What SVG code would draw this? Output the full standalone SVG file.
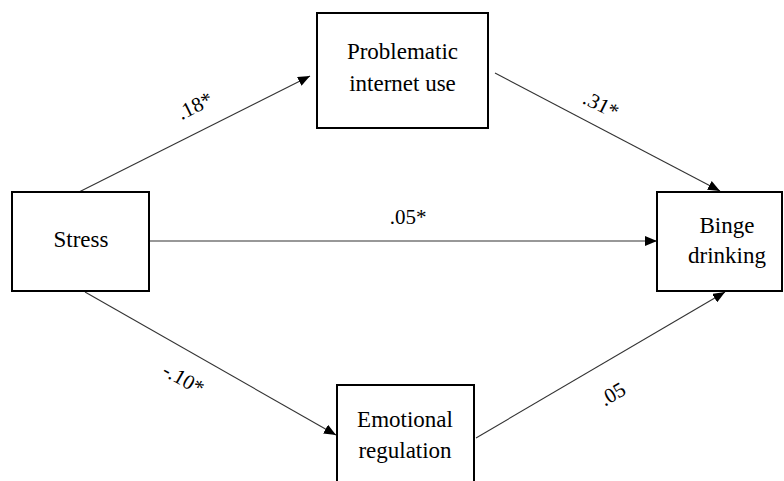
<svg xmlns="http://www.w3.org/2000/svg" width="784" height="481" viewBox="0 0 784 481">
  <style>
    .box { fill: #ffffff; stroke: #000000; stroke-width: 2; }
    .node-text { font-family: 'Liberation Serif', 'Times New Roman', Times, 'Nimbus Roman', 'Nimbus Roman No9 L', FreeSerif, 'DejaVu Serif', 'Noto Serif', Georgia, serif; font-size: 23px; fill: #000000; text-anchor: middle; }
    .edge { stroke: #333333; stroke-width: 1.1; fill: none; marker-end: url(#arrow); }
    .edge-label { font-family: 'Liberation Serif', 'Times New Roman', Times, 'Nimbus Roman', 'Nimbus Roman No9 L', FreeSerif, 'DejaVu Serif', 'Noto Serif', Georgia, serif; font-size: 21px; fill: #000000; text-anchor: middle; }
  </style>
  <defs>
    <marker id="arrow" viewBox="0 0 12 10" refX="12" refY="5" markerWidth="12" markerHeight="10" markerUnits="userSpaceOnUse" orient="auto">
      <path d="M0,0 L12,5 L0,10 Z" fill="#000000"/>
    </marker>
  </defs>
  <rect width="784" height="481" fill="#ffffff"/>

  <g id="connectors">
    <line class="edge" x1="79" y1="192" x2="310" y2="76"/>
    <line class="edge" x1="495" y1="73" x2="720" y2="191"/>
    <line class="edge" x1="149" y1="241" x2="657" y2="241"/>
    <line class="edge" x1="85" y1="292" x2="336" y2="435"/>
    <line class="edge" x1="476" y1="438" x2="725" y2="292"/>
    <text class="edge-label" transform="translate(198,112) rotate(-26.7)">.18*</text>
    <text class="edge-label" transform="translate(598,111) rotate(26.5)">.31*</text>
    <text class="edge-label" x="408" y="224">.05*</text>
    <text class="edge-label" transform="translate(180,385) rotate(29.6)">-.10*</text>
    <text class="edge-label" transform="translate(616,400) rotate(-30.4)">.05</text>
  </g>

  <g id="stress">
    <rect class="box" x="12" y="192" width="137" height="99"/>
    <text class="node-text" x="81" y="247">Stress</text>
  </g>

  <g id="problematic-internet-use">
    <rect class="box" x="317" y="13" width="171" height="115"/>
    <text class="node-text" x="402.5" y="59">Problematic</text>
    <text class="node-text" x="402.5" y="91">internet use</text>
  </g>

  <g id="binge-drinking">
    <rect class="box" x="657" y="192" width="125" height="99"/>
    <text class="node-text" x="727" y="233">Binge</text>
    <text class="node-text" x="727" y="263">drinking</text>
  </g>

  <g id="emotional-regulation">
    <rect class="box" x="337" y="385" width="137" height="110"/>
    <text class="node-text" x="405" y="427">Emotional</text>
    <text class="node-text" x="405" y="458">regulation</text>
  </g>
</svg>
